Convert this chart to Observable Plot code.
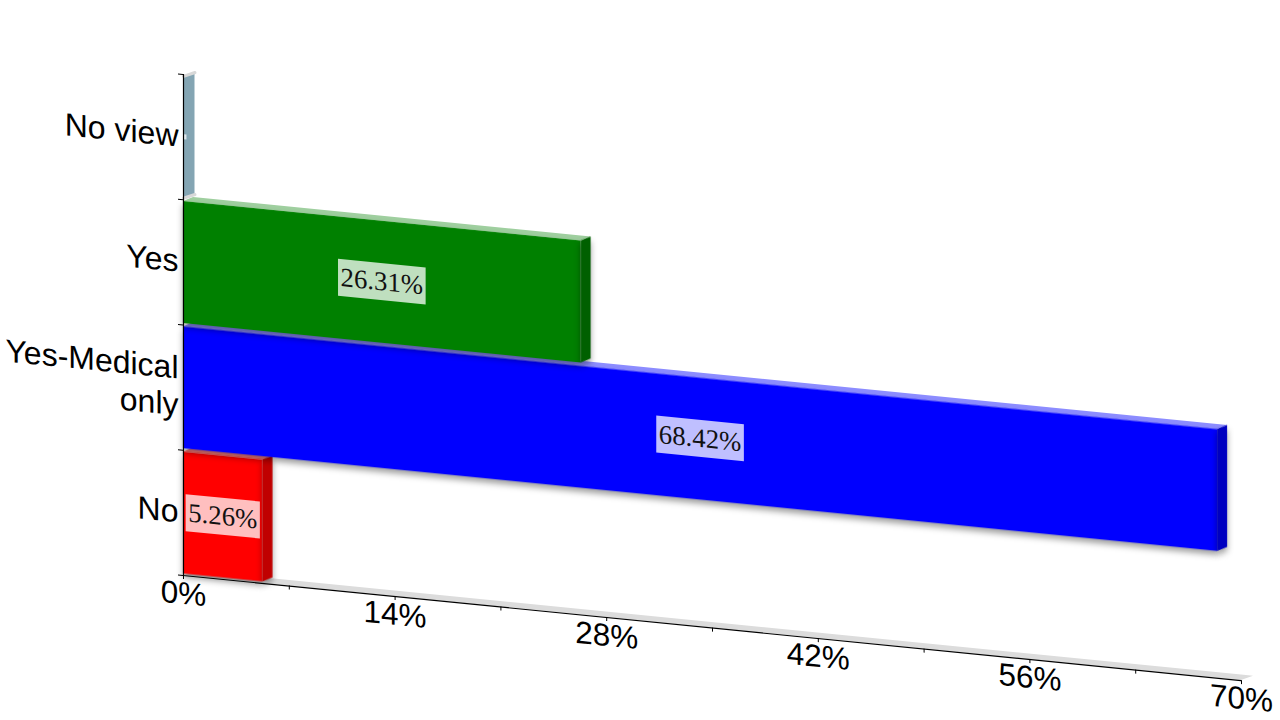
<!DOCTYPE html>
<html>
<head>
<meta charset="utf-8">
<script src="https://cdn.jsdelivr.net/npm/d3@7"></script>
<script src="https://cdn.jsdelivr.net/npm/@observablehq/plot@0.6"></script>
<style>
html,body{margin:0;padding:0;background:#fff;overflow:hidden}
.shadowed{filter:drop-shadow(0 4px 3px rgba(0,0,0,.38))}
</style>
</head>
<body>
<div id="chart"></div>
<script>
// Data, from the bottom band to the top band
const categories = ["No", "Yes-Medical\nonly", "Yes", "No view"];
const values = [5.26, 68.42, 26.31, 0];
const valueLabels = ["5.26%", "68.42%", "26.31%", ""];
const frontColors = ["#ff0000", "#0000ff", "#008000", "#84a5b3"];
const sideColors = ["#c00000", "#0000c0", "#006000", "#84a5b3"];
const topColors = ["#ff8080", "#8c8cff", "#9fcf9f", "#d8d8d8"];
const xTicks = [0, 7, 14, 21, 28, 35, 42, 49, 56, 63, 70];
const yTicks = [0, 1, 2, 3, 4];

const width = 1280, height = 720;
const mL = 183, mR = 39, mT = 74, mB = 145;
const pxX = (width - mL - mR) / 70;
const pxY = (height - mT - mB) / 4;
const skew = 0.0993;

const depthX = 10 / pxX, depthY = 5 / pxY;
const wallX = 11.5 / pxX;
const floorX = 12 / pxX, floorY = 5.5 / pxY;
const insetTop = 1.8 / pxY, insetBottom = 1.5 / pxY;

const ctx = document.createElement("canvas").getContext("2d");
ctx.font = "26.8px 'Liberation Serif'";
const boxes = values.map((v, i) => {
  const t = valueLabels[i];
  const w = (t ? ctx.measureText(t).width + 5 : 3) / pxX;
  const h = (t ? 37 : 5) / pxY;
  return {x1: v / 2 + (t ? -w / 2 : 0.03), x2: v / 2 + (t ? w / 2 : 0.03 + w), y1: i + 0.5 - h / 2, y2: i + 0.5 + h / 2};
});

const parallelogram = (x0, x1, y, dx, dy) => [
  {x: x0, y1: y, y2: y},
  {x: x0 + dx, y1: y, y2: y + dy},
  {x: x1, y1: y, y2: y + dy},
  {x: x1 + dx, y1: y + dy, y2: y + dy}
];
const sideFace = (x, yLo, yHi, dx, dy) => [
  {x, y1: yLo, y2: yHi},
  {x: x + dx, y1: yLo + dy, y2: yHi + dy}
];

const barMarks = values.flatMap((v, i) => {
  const lo = i + insetBottom, hi = i + 1 - insetTop;
  const fill = {x: "x", y1: "y1", y2: "y2"};
  if (v === 0) {
    return [
      Plot.areaY(sideFace(0, lo, hi, wallX, depthY), {...fill, fill: sideColors[i]}),
      Plot.line([{x: 0, y: hi}, {x: wallX, y: hi + depthY}], {x: "x", y: "y", stroke: topColors[i], strokeWidth: 3}),
      Plot.line([{x: 0, y: lo}, {x: wallX, y: lo + depthY}], {x: "x", y: "y", stroke: topColors[i], strokeWidth: 3})
    ];
  }
  return [
    Plot.areaY(parallelogram(0, v, hi, depthX, depthY), {...fill, fill: topColors[i]}),
    Plot.rect([{v, lo, hi}], {x1: 0, x2: "v", y1: "lo", y2: "hi", fill: frontColors[i], inset: 0, className: "shadowed"}),
    Plot.areaY(sideFace(v, lo, hi, depthX, depthY), {...fill, fill: sideColors[i], className: "shadowed"})
  ];
});

const chart = Plot.plot({
  width, height,
  marginLeft: mL, marginRight: mR, marginTop: mT, marginBottom: mB,
  x: {domain: [0, 70], axis: null},
  y: {domain: [0, 4], axis: null},
  style: {
    fontFamily: "'Liberation Sans', sans-serif",
    background: "transparent",
    overflow: "visible",
    transformOrigin: `${mL}px ${height - mB}px`,
    transform: `matrix(1, ${skew}, 0, 1, 0, 0)`
  },
  marks: [
    Plot.areaY(parallelogram(0, 70, 0, floorX, floorY), {x: "x", y1: "y1", y2: "y2", fill: "#dcdcdc"}),
    ...barMarks,
    Plot.rect(boxes, {x1: "x1", x2: "x2", y1: "y1", y2: "y2", fill: "#fff", fillOpacity: 0.75, inset: 0}),
    Plot.text(values.map((v, i) => ({x: v / 2, y: i + 0.5, t: valueLabels[i]})).filter(d => d.t), {
      x: "x", y: "y", text: "t", fontSize: 26.8, dx: -0.5, dy: -0.5, fontFamily: "'Liberation Serif', serif", fill: "#111"
    }),
    Plot.ruleY([0], {stroke: "#000", strokeWidth: 1.2}),
    Plot.ruleX([0], {y1: 0, y2: 4, stroke: "#000", strokeWidth: 1.2}),
    Plot.axisX({
      ticks: xTicks, tickSize: 4, tickPadding: 2, fontSize: 31.5, label: null, anchor: "bottom",
      tickFormat: d => d % 14 === 0 ? d + "%" : ""
    }),
    Plot.axisY({ticks: yTicks, tickSize: 5, tickFormat: () => "", label: null, anchor: "left"}),
    Plot.text(categories, {
      x: () => 0, y: (d, i) => i + 0.5, text: d => d, textAnchor: "end", dx: -5, dy: -2,
      fontSize: 32, lineHeight: 1.15, fill: "#000"
    })
  ]
});
document.getElementById("chart").appendChild(chart);
</script>
</body>
</html>
